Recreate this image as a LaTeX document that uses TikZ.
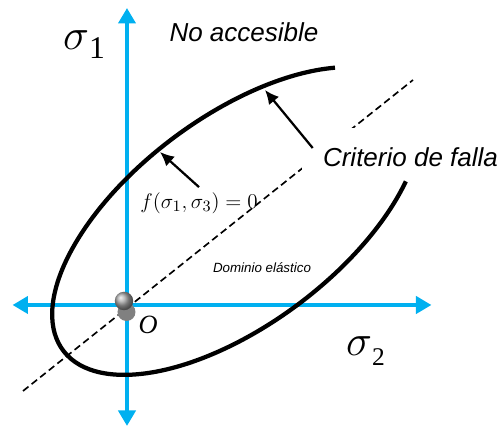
\documentclass[tikz,border=0pt]{standalone}
\usepackage{fontspec}
\setmainfont{Liberation Sans}
\newfontfamily\timesf{Liberation Serif}
\usetikzlibrary{arrows.meta,positioning}
\definecolor{axisblue}{RGB}{0,176,240}

\begin{document}
\begin{tikzpicture}[>=Latex]
  \tikzset{axis/.style={line width=0.9mm,axisblue,{Triangle[length=3.1mm,width=3.4mm]}-{Triangle[length=3.1mm,width=3.4mm]}},
    yieldcurve/.style={line width=0.85mm},
    callout/.style={line width=0.45mm,-{Latex[length=2.8mm,width=2.6mm]}},
    lbl/.style={inner sep=0,font=\fontsize{14.8}{16}\selectfont\itshape},
    originball/.style={circle,inner sep=0,minimum size=3.7mm,ball color=gray!70}}
  \useasboundingbox (0,0) rectangle (10.06,8.54);
  \coordinate (xl) at (0.25,2.44);\coordinate (xr) at (8.63,2.44);
  \coordinate (yb) at (2.54,0.02);\coordinate (yt) at (2.54,8.38);
  \draw[axis] (xl)--(xr);\draw[axis] (yb)--(yt);
  % criterio de falla (arco de elipse abierto)
  \draw[yieldcurve,shift={(4.72,4.12)},rotate=36.8] (37.6:4.32 and 2.08) arc[start angle=37.6,end angle=317.7,x radius=4.32,y radius=2.08];
  \coordinate (tipa) at (5.30,6.74);\coordinate (tipb) at (3.20,5.50);
  % eje hidrostatico
  \coordinate (da) at (0.46,0.72);\coordinate (db) at (8.26,6.94);
  \draw[line width=0.33mm,dash pattern=on 1.4mm off 0.8mm] (da)--(db);
  \coordinate (o) at (2.48,2.52);
  \fill[black!50] ([shift={(0.05,-0.22)}]o) circle (1.8mm);
  \node[originball] (orig) at (o) {};
  \node[inner sep=0,font=\timesf\itshape\fontsize{15}{17}\selectfont,below right=1.5mm and 1.5mm of orig] (olab) {O};
  \node[inner sep=0] (s1) at (1.68,7.65) {\fontsize{25}{27}\selectfont$\sigma$\raisebox{-5pt}{\timesf\fontsize{18}{20}\selectfont 1}};
  \node[inner sep=0] (s2) at (7.31,1.52) {\fontsize{26}{28}\selectfont$\sigma$\raisebox{-5.5pt}{\timesf\fontsize{14.5}{16}\selectfont 2}};
  \node[lbl] (noacc) at (4.88,7.89) {No accesible};
  \node[lbl,fill=white,anchor=base,inner xsep=4.2mm,text height=7.8mm,text depth=1mm] (crit) at (8.21,5.20) {Criterio de falla};
  \node[inner sep=0,font=\fontsize{12.5}{14}\selectfont] (flab) at (3.98,4.48) {$f(\sigma_1,\sigma_3)=0$};
  \node[inner sep=0,font=\fontsize{7.6}{9}\selectfont\itshape] (dom) at (5.24,3.18) {Dominio elástico};
  \draw[callout] ([shift={(0.22,0.38)}]crit.base west)--(tipa);
  \draw[callout] ([yshift=1mm]flab.north)--(tipb);
\end{tikzpicture}
\end{document}
